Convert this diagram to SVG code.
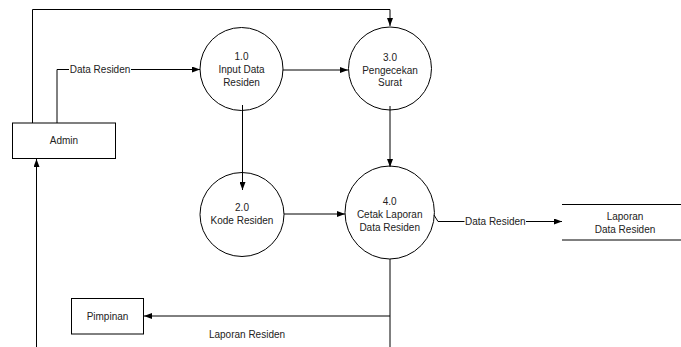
<svg xmlns="http://www.w3.org/2000/svg" width="681" height="347" viewBox="0 0 681 347">
<style>
text{font-family:"Liberation Sans",Arial,sans-serif;font-size:10px;fill:#222;text-anchor:middle}
.n{fill:#fff;stroke:#000;stroke-width:1}
.c{fill:none;stroke:#000;stroke-width:1}
</style>
<defs>
<marker id="ah" markerWidth="8" markerHeight="6" refX="8" refY="3" orient="auto" markerUnits="userSpaceOnUse">
<path d="M0,0 L8,3 L0,6 Z" fill="#000"/>
</marker>
</defs>
<rect width="681" height="347" fill="#fff"/>
<g id="admin">
<rect class="n" x="12.5" y="123" width="103" height="35.5"/>
<text x="64" y="144">Admin</text>
</g>
<g id="p1">
<circle class="n" cx="241.5" cy="69" r="41.5"/>
<text x="241.5" y="60">1.0</text>
<text x="241.5" y="72.5">Input Data</text>
<text x="241.5" y="85.5">Residen</text>
</g>
<g id="p3">
<circle class="n" cx="390" cy="68.5" r="41.5"/>
<text x="390" y="61">3.0</text>
<text x="390" y="73.5">Pengecekan</text>
<text x="390" y="86">Surat</text>
</g>
<g id="p2">
<circle class="n" cx="242" cy="214.5" r="42"/>
<text x="242" y="211">2.0</text>
<text x="242" y="224">Kode Residen</text>
</g>
<g id="p4">
<ellipse class="n" cx="389.7" cy="212.5" rx="44.7" ry="46.5"/>
<text x="389.7" y="205">4.0</text>
<text x="389.7" y="217.5">Cetak Laporan</text>
<text x="389.7" y="230.5">Data Residen</text>
</g>
<g id="store">
<path class="c" d="M562,204.5 H681 M562,240 H681" stroke="#333"/>
<text x="625" y="219.5">Laporan</text>
<text x="625" y="233">Data Residen</text>
</g>
<g id="pimpinan">
<rect class="n" x="71.5" y="298.5" width="72" height="35.5"/>
<text x="107.5" y="319.5">Pimpinan</text>
</g>
<g id="connectors">
<path class="c" d="M32.5,123 V9.5 H390 V26" marker-end="url(#ah)"/>
<path class="c" d="M57,123 V69.5 H200" marker-end="url(#ah)"/>
<path class="c" d="M283,70 H348" marker-end="url(#ah)"/>
<path class="c" d="M242.5,105 V190" marker-end="url(#ah)"/>
<path class="c" d="M390,106 V167" marker-end="url(#ah)"/>
<path class="c" d="M284,214 H345" marker-end="url(#ah)"/>
<path class="c" d="M434,215 L438,221.5 H562" marker-end="url(#ah)"/>
<path class="c" d="M390,259 V347"/>
<path class="c" d="M390,316 H144" marker-end="url(#ah)"/>
<path class="c" d="M36.5,347 V159" marker-end="url(#ah)"/>
<rect x="69" y="64" width="62" height="11" fill="#fff"/>
<text x="100" y="73">Data Residen</text>
<rect x="464.5" y="216" width="61.5" height="11" fill="#fff"/>
<text x="495.3" y="225">Data Residen</text>
<text x="247" y="338">Laporan Residen</text>
</g>
</svg>
